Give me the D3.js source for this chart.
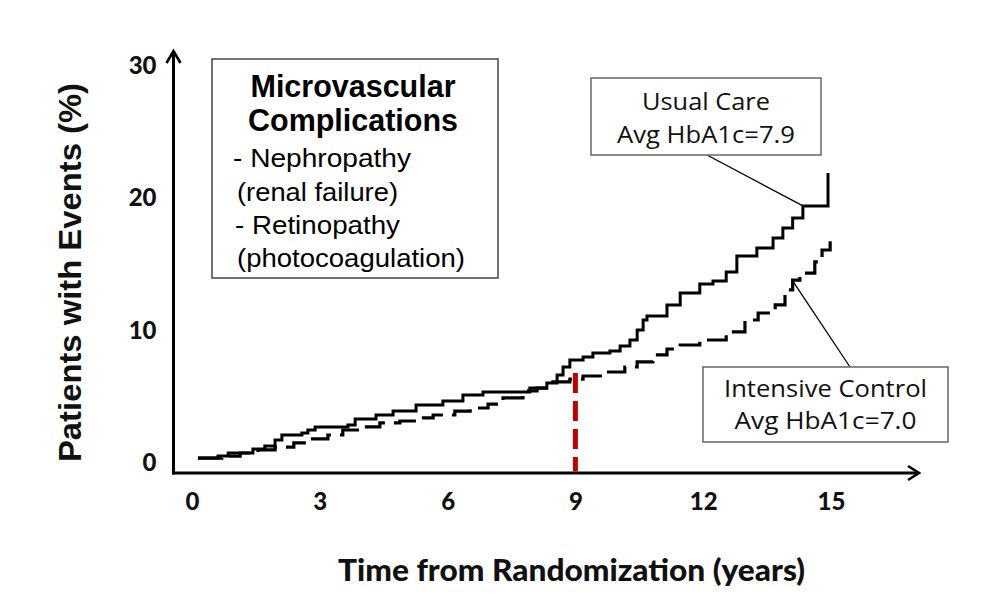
<!DOCTYPE html>
<html><head><meta charset="utf-8">
<script src="https://cdn.jsdelivr.net/npm/d3@7"></script>
<style>body{margin:0;background:#fff} svg{display:block;background:#fff}</style>
</head><body>
<svg id="c" width="1000" height="616"></svg>
<script>
// ---- data ----
const xTicks = [0, 3, 6, 9, 12, 15];
const yTicks = [0, 10, 20, 30];
const ucTime = [0.14,0.61,0.85,1.43,1.71,1.95,2.11,2.58,2.72,2.89,3.66,3.83,4.32,4.72,5.26,5.89,6.36,6.83,7.93,8.33,8.57,8.71,8.87,9.18,9.41,9.81,10.05,10.28,10.45,10.59,10.68,11.15,11.46,11.92,12.23,12.54,12.79,13.26,13.64,13.87,14.10,14.34,14.93];
const ucPct  = [0.30,0.45,0.68,0.98,1.21,1.66,2.04,2.19,2.42,2.65,2.80,3.25,3.55,3.85,4.31,4.61,5.06,5.29,5.59,5.97,6.58,7.18,7.71,7.94,8.24,8.39,8.77,9.22,9.98,10.73,11.04,11.87,12.77,13.45,13.68,14.36,15.57,16.17,16.93,17.69,18.44,19.35,21.84];
const icTime = [0.14,0.70,1.13,1.55,1.95,2.39,2.79,3.19,3.54,3.99,4.41,4.88,5.35,5.66,6.17,6.53,6.95,7.30,7.77,8.10,8.47,8.87,9.18,9.74,10.16,10.45,10.82,11.15,11.46,11.92,12.54,12.98,13.29,13.69,13.92,14.10,14.27,14.62,14.79,14.98];
const icPct  = [0.30,0.45,0.68,0.91,1.13,1.44,1.74,2.04,2.42,2.65,2.95,3.10,3.33,3.55,3.85,4.08,4.38,4.84,5.37,5.59,6.05,6.27,6.50,6.80,7.18,7.56,8.09,8.54,8.84,9.22,9.83,10.73,11.26,11.87,13.00,13.75,14.28,15.12,16.02,16.78];
const markYear = 9, markPct = 6.73;
const ucCallout = [14.34, 19.35];
const icCallout = [14.12, 13.6];
const xTitle = "Time from Randomization (years)";
const yTitle = "Patients with Events (%)";
const ucLabel = ["Usual Care", "Avg HbA1c=7.9"];
const icLabel = ["Intensive Control", "Avg HbA1c=7.0"];
const boxTitle = ["Microvascular", "Complications"];
const boxItems = ["- Nephropathy", "(renal failure)", "- Retinopathy", "(photocoagulation)"];

// ---- layout ----
const svg = d3.select("#c");
const x = d3.scaleLinear().domain([0, 15]).range([192, 831]);
const y = d3.scaleLinear().domain([0, 30]).range([462, 65]);
const axX = 173.5, axY = 473;

svg.append("rect").attr("width",1000).attr("height",616).attr("fill","#fff");

// axes via d3
const gx = svg.append("g").attr("transform",`translate(0,${axY})`)
  .call(d3.axisBottom(x).tickValues(xTicks).tickSize(0).tickPadding(20));
gx.select(".domain").remove();
gx.selectAll("text").attr("font-family","Lato, 'Open Sans', sans-serif").attr("font-weight","900")
  .attr("font-size",24).attr("fill","#111");

const gy = svg.append("g").attr("transform",`translate(${axX},0)`)
  .call(d3.axisLeft(y).tickValues(yTicks).tickSize(0).tickPadding(17));
gy.select(".domain").remove();
gy.selectAll("text").attr("font-family","Lato, 'Open Sans', sans-serif").attr("font-weight","900")
  .attr("font-size",24).attr("fill","#111").attr("dy","0.36em");

// axis lines with open arrows
const ax = svg.append("g").attr("stroke","#000").attr("fill","none").attr("stroke-width",3);
ax.append("path").attr("d",`M${axX},${axY+1.5}V51`);
ax.append("path").attr("d",`M${axX-1.5},${axY}H918`);
ax.append("path").attr("stroke-width",2.6).attr("d",`M${axX-7},63L${axX},51L${axX+7},63`);
ax.append("path").attr("stroke-width",2.6).attr("d",`M908,466L919,${axY}L908,480`);

// curves
const line = d3.line().x(d=>x(d[0])).y(d=>y(d[1])).curve(d3.curveStepAfter);
const ucData = ucTime.map((t,i)=>[t,ucPct[i]]);
const icData = icTime.map((t,i)=>[t,icPct[i]]);

svg.append("path").datum(icData).attr("d",line).attr("fill","none")
  .attr("stroke","#000").attr("stroke-width",3.2).attr("stroke-dasharray","24,9");
svg.append("path").datum(ucData).attr("d",line).attr("fill","none")
  .attr("stroke","#000").attr("stroke-width",3).attr("stroke-linejoin","miter");

// red dashed marker at year 9
svg.append("line").attr("x1",x(markYear)).attr("x2",x(markYear))
  .attr("y1",y(markPct)).attr("y2",axY-1.5)
  .attr("stroke","#c00000").attr("stroke-width",5).attr("stroke-dasharray","20,8");

// callouts
const calloutFont = "'Open Sans', 'Noto Sans', sans-serif";
function callout(bx,by,bw,bh,lines,widths,baselines,from,to){
  svg.append("line").attr("x1",x(from[0])).attr("y1",y(from[1]))
    .attr("x2",to[0]).attr("y2",to[1]).attr("stroke","#000").attr("stroke-width",1.3);
  svg.append("rect").attr("x",bx).attr("y",by).attr("width",bw).attr("height",bh)
    .attr("fill","#fff").attr("stroke","#666").attr("stroke-width",1.5);
  lines.forEach((s,i)=>{
    svg.append("text").attr("x",bx+bw/2).attr("y",baselines[i]).attr("text-anchor","middle")
      .attr("font-family",calloutFont).attr("font-size",24).attr("fill","#111")
      .attr("textLength",widths[i]).attr("lengthAdjust","spacingAndGlyphs").text(s);
  });
}
callout(591,78,230,77,ucLabel,[128,178],[110,143],ucCallout,[707,155]);
callout(703,367,245,75,icLabel,[203,182],[397,429],icCallout,[850,367]);

// description box
svg.append("rect").attr("x",212).attr("y",59).attr("width",286).attr("height",219)
  .attr("fill","#fff").attr("stroke","#444").attr("stroke-width",1.5);
const titleW=[205,210], titleB=[97,131];
boxTitle.forEach((s,i)=>{
  svg.append("text").attr("x",353).attr("y",titleB[i]).attr("text-anchor","middle")
    .attr("font-family","'Liberation Sans', Arial, sans-serif").attr("font-weight","bold")
    .attr("font-size",31).attr("fill","#000")
    .attr("textLength",titleW[i]).attr("lengthAdjust","spacingAndGlyphs").text(s);
});
const itemX=[233,237,235,237], itemW=[178,161,165,228], itemB=[167,201,234,267];
boxItems.forEach((s,i)=>{
  svg.append("text").attr("x",itemX[i]).attr("y",itemB[i])
    .attr("font-family","'Liberation Sans', Arial, sans-serif")
    .attr("font-size",26).attr("fill","#000")
    .attr("textLength",itemW[i]).attr("lengthAdjust","spacingAndGlyphs").text(s);
});

// axis titles
svg.append("text").attr("x",571.5).attr("y",581).attr("text-anchor","middle")
  .attr("font-family","Lato, 'Open Sans', sans-serif").attr("font-weight","900")
  .attr("font-size",31).attr("fill","#111")
  .attr("textLength",467).attr("lengthAdjust","spacingAndGlyphs").text(xTitle);
svg.append("text").attr("transform","translate(81,272.5) rotate(-90)").attr("text-anchor","middle")
  .attr("font-family","'Liberation Sans', Arial, sans-serif").attr("font-weight","bold")
  .attr("font-size",31).attr("fill","#111")
  .attr("textLength",379).attr("lengthAdjust","spacingAndGlyphs").text(yTitle);
</script>
</body></html>
